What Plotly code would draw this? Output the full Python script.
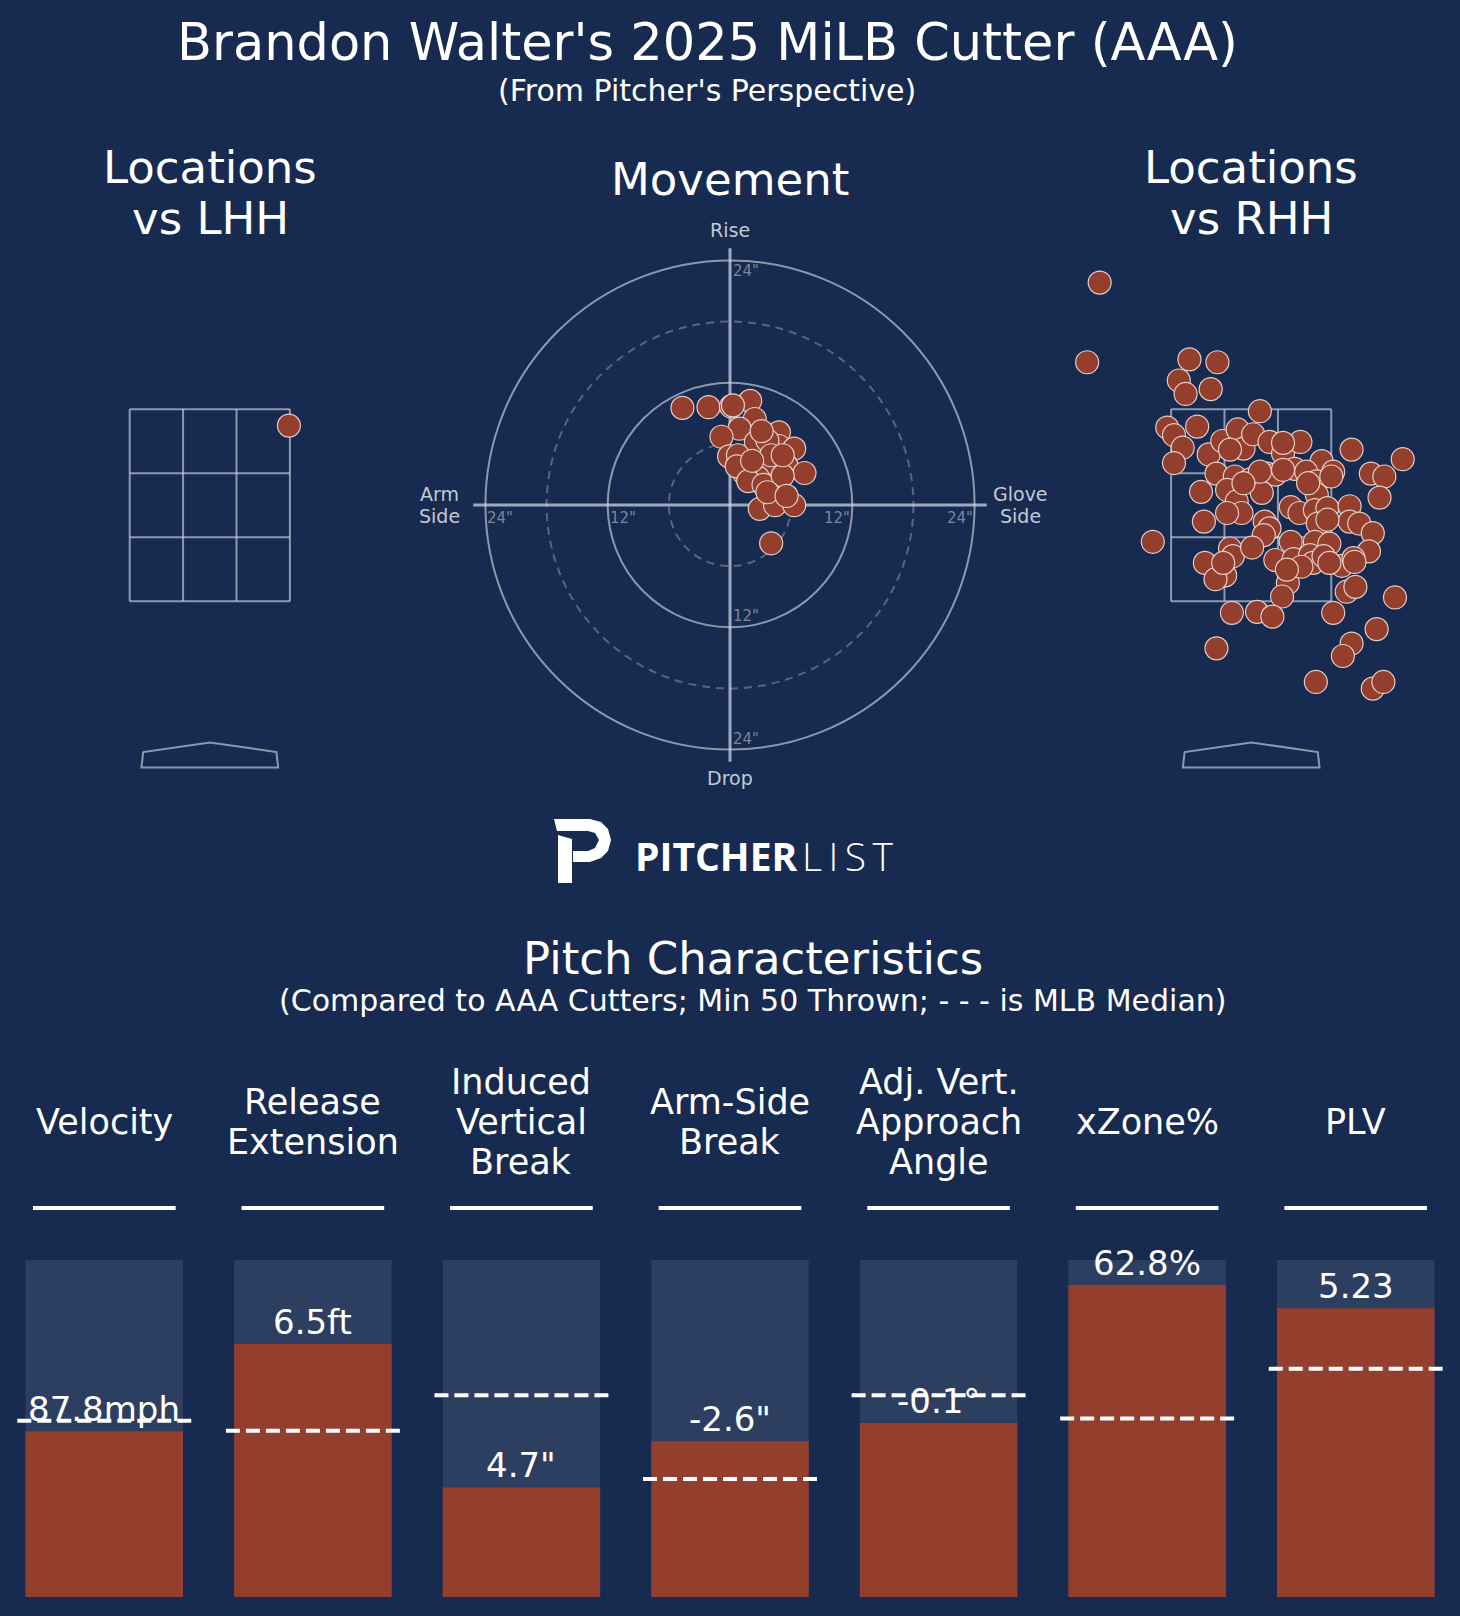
import plotly.graph_objects as go

# --- dati ---------------------------------------------------------------
TITLE = "Brandon Walter's 2025 MiLB Cutter (AAA)"
SUBTITLE = "(From Pitcher's Perspective)"

# posizioni vs LHH (ft, dal punto di vista del lanciatore)
lhh_x = [0.82]
lhh_z = [3.33]

# posizioni vs RHH (ft)
rhh_x = [-1.57, -1.70, -0.64, -0.35, -0.75, -0.68, -0.42, 0.09, -0.87, -0.80,
         -0.71, -0.80, -0.56, -0.44, -0.30, -0.14, -0.08, 0.02, 0.19, 0.33,
         0.51, 1.04, 1.57, 0.73, 0.85, 1.24, 1.38, 1.33, -0.36, -0.17,
         -0.01, 0.17, 0.25, 0.45, 0.57, 0.68, 0.83, -0.52, -0.25, -0.15,
         -0.10, -0.25, 0.11, 0.68, 0.41, 0.50, 0.66, 0.79, 1.02, 1.02,
         1.12, 1.26, 1.22, 0.69, 0.14, 0.19, 0.13, -0.49, -1.02, -0.22,
         -0.19, 0.01, 0.41, 0.66, 0.81, -0.48, -0.27, -0.37, 0.25, 0.44,
         0.61, 0.64, 0.94, 1.06, 1.07, 0.38, 0.32, 0.99, 1.08, 1.49,
         -0.20, 0.06, 0.22, 0.85, 1.30, 1.04, 0.95, -0.36, 0.67, 1.26,
         1.37, 0.79, 0.59, 0.33, 0.09, -0.22, -0.08, 0.75, 0.52, 0.37,
         0.81, -0.29, 0.33]
rhh_z = [4.82, 3.99, 4.02, 3.99, 3.80, 3.66, 3.71, 3.48, 3.31, 3.23,
         3.10, 2.94, 3.32, 3.03, 3.17, 3.29, 3.09, 3.24, 3.16, 3.04,
         3.16, 3.08, 2.98, 2.96, 2.85, 2.83, 2.80, 2.58, 2.83, 2.80,
         2.77, 2.83, 2.82, 2.88, 2.85, 2.75, 2.80, 2.64, 2.66, 2.54,
         2.42, 2.42, 2.63, 2.61, 2.48, 2.42, 2.45, 2.47, 2.49, 2.33,
         2.31, 2.21, 2.02, 2.31, 2.33, 2.26, 2.19, 2.33, 2.12, 2.05,
         1.97, 2.06, 2.12, 2.12, 2.10, 1.90, 1.77, 1.73, 1.93, 1.94,
         1.98, 1.90, 1.87, 1.95, 1.91, 1.69, 1.55, 1.60, 1.65, 1.54,
         1.38, 1.39, 1.34, 1.38, 1.21, 1.06, 0.93, 1.01, 0.66, 0.59,
         0.66, 2.35, 2.73, 2.87, 2.85, 3.08, 2.73, 1.97, 1.86, 1.83,
         1.90, 1.90, 3.15]

# movimento (pollici): orizzontale e verticale indotto
mov_h = [-4.67, -2.11, 0.10, 1.98, 0.29, 2.43, 0.93, -0.84, 4.80, 2.54,
         4.80, 6.30, -0.09, 0.78, 3.67, 5.55, 7.31, 2.73, 4.80, 2.92,
         4.42, 6.30, 4.04, 1.41, 3.67, 4.04, 0.66, 1.79, 3.29, 5.17,
         2.17, 3.10, 5.17, 3.67, 5.55]
mov_v = [9.53, 9.60, 9.67, 10.22, 9.78, 8.44, 7.49, 6.70, 7.13, 6.15,
         5.79, 5.53, 4.77, 4.88, 4.15, 3.86, 3.14, 2.70, 2.16, -0.38,
         -0.02, -0.02, -3.76, 3.07, 6.33, 4.88, 3.79, 2.34, 1.98, 2.88,
         4.34, 7.24, 4.88, 1.25, 0.89]

# caratteristiche del lancio (percentili)
metric_names = [["Velocity"], ["Release", "Extension"],
                ["Induced", "Vertical", "Break"], ["Arm-Side", "Break"],
                ["Adj. Vert.", "Approach", "Angle"], ["xZone%"], ["PLV"]]
value_labels = ["87.8mph", "6.5ft", "4.7\"", "-2.6\"", "-0.1°", "62.8%", "5.23"]
pct_values = [49.2, 75.1, 32.5, 46.2, 51.6, 92.6, 85.7]
median_pct = [52.3, 49.3, 59.9, 35.0, 59.9, 53.0, 67.7]

# --- stile ---------------------------------------------------------------
W, H = 1460, 1616
BG = "#172a4f"
BAR_BG = "#2d3f60"
RUST = "#943f2e"
LINE = "rgba(205,212,225,0.65)"
FONT = "DejaVu Sans"


def py(p):
    # pixel verticale -> coordinata paper
    return 1 - p / H


def pxx(p):
    return p / W


def hidden(**kw):
    d = dict(visible=False, showgrid=False, zeroline=False, fixedrange=True)
    d.update(kw)
    return d


dot_marker = dict(size=23, color=RUST, line=dict(color="rgba(240,222,215,0.9)", width=1.2))

fig = go.Figure()

# 1) barre
n = len(pct_values)
xs = list(range(n))
fig.add_trace(go.Bar(x=xs, y=[100] * n, width=0.755, marker=dict(color=BAR_BG, line_width=0),
                     xaxis="x", yaxis="y", hoverinfo="skip"))
fig.add_trace(go.Bar(x=xs, y=pct_values, width=0.755, marker=dict(color=RUST, line_width=0),
                     xaxis="x", yaxis="y"))

# 2) posizioni e movimento
fig.add_trace(go.Scatter(x=lhh_x, y=lhh_z, mode="markers", marker=dot_marker, xaxis="x2", yaxis="y2"))
fig.add_trace(go.Scatter(x=mov_h, y=mov_v, mode="markers", marker=dot_marker, xaxis="x3", yaxis="y3"))
fig.add_trace(go.Scatter(x=rhh_x, y=rhh_z, mode="markers", marker=dot_marker, xaxis="x4", yaxis="y4"))

shapes = []
annotations = []

# zona di strike + piatto per entrambi i pannelli
zone_x = [-0.83, -0.277, 0.277, 0.83]
zone_z = [1.5, 2.167, 2.833, 3.5]
plate = [(-0.708, -0.23), (-0.69, -0.07), (0.0, 0.03), (0.69, -0.07), (0.708, -0.23)]
for ax in ("2", "4"):
    for xv in zone_x:
        shapes.append(dict(type="line", xref="x" + ax, yref="y" + ax, x0=xv, x1=xv,
                           y0=zone_z[0], y1=zone_z[-1], line=dict(color=LINE, width=2), layer="below"))
    for zv in zone_z:
        shapes.append(dict(type="line", xref="x" + ax, yref="y" + ax, x0=zone_x[0], x1=zone_x[-1],
                           y0=zv, y1=zv, line=dict(color=LINE, width=2), layer="below"))
    path = "M " + " L ".join(f"{a},{b}" for a, b in plate) + " Z"
    shapes.append(dict(type="path", xref="x" + ax, yref="y" + ax, path=path,
                       line=dict(color=LINE, width=2), layer="below"))

# griglia polare del movimento
for r, dash, col in [(6, "8px,6px", "rgba(205,212,225,0.35)"), (12, "solid", LINE),
                     (18, "8px,6px", "rgba(205,212,225,0.35)"), (24, "solid", LINE)]:
    shapes.append(dict(type="circle", xref="x3", yref="y3", x0=-r, x1=r, y0=-r, y1=r,
                       line=dict(color=col, width=2, dash=dash), layer="below"))
shapes.append(dict(type="line", xref="x3", yref="y3", x0=-25.2, x1=25.2, y0=0, y1=0,
                   line=dict(color="rgba(205,212,225,0.75)", width=3), layer="below"))
shapes.append(dict(type="line", xref="x3", yref="y3", x0=0, x1=0, y0=-25.2, y1=25.2,
                   line=dict(color="rgba(205,212,225,0.75)", width=3), layer="below"))

# linee mediane e sottolineature
for i in xs:
    shapes.append(dict(type="line", xref="x", yref="y", x0=i - 0.417, x1=i + 0.417,
                       y0=median_pct[i], y1=median_pct[i],
                       line=dict(color="white", width=4, dash="14px,6px")))
    shapes.append(dict(type="line", xref="x", yref="paper", x0=i - 0.342, x1=i + 0.342,
                       y0=py(1208), y1=py(1208), line=dict(color="white", width=4)))

# logo P
def ppath(pts):
    return "M " + " L ".join(f"{pxx(a)},{py(b)}" for a, b in pts) + " Z"


bowl = [(554, 819), (590, 819), (601, 822), (608, 829), (611, 840), (608, 851), (601, 858),
        (590, 862), (573, 862), (573, 851), (588, 851), (595, 848), (599, 840), (595, 833),
        (588, 831), (557, 831)]
stem = [(558, 835), (572, 839), (572, 883), (558, 883)]
for pts in (bowl, stem):
    shapes.append(dict(type="path", xref="paper", yref="paper", path=ppath(pts),
                       fillcolor="white", line=dict(width=0)))


def text(t, x, y, size, color="white", xanchor="center", yanchor="middle", xref="paper", yref="paper",
         **kw):
    annotations.append(dict(text=t, x=x, y=y, xref=xref, yref=yref, showarrow=False,
                            xanchor=xanchor, yanchor=yanchor,
                            font=dict(family=kw.pop("family", FONT), size=size, color=color,
                                      weight=kw.pop("weight", "normal")), **kw))


# titoli
text(TITLE, pxx(707), py(42), 51)
text(SUBTITLE, pxx(707), py(91), 30)
text("Locations", pxx(210), py(167), 45)
text("vs LHH", pxx(210), py(219), 45)
text("Movement", pxx(730), py(180), 45)
text("Locations", pxx(1251), py(167), 45)
text("vs RHH", pxx(1251), py(219), 45)

# etichette movimento
GRAY = "#c3c9d4"
TICK = "rgba(190,198,212,0.6)"
text("Rise", 0, 27, 19, GRAY, xref="x3", yref="y3")
text("Drop", 0, -26.8, 19, GRAY, xref="x3", yref="y3")
text("Arm", -28.5, 0, 19, GRAY, xref="x3", yref="y3", yshift=11)
text("Side", -28.5, 0, 19, GRAY, xref="x3", yref="y3", yshift=-11)
text("Glove", 28.5, 0, 19, GRAY, xref="x3", yref="y3", yshift=11)
text("Side", 28.5, 0, 19, GRAY, xref="x3", yref="y3", yshift=-11)
for v in (-24, -12):
    text(f'{abs(v)}"', v, 0, 15, TICK, xanchor="left", yanchor="top", xref="x3", yref="y3", yshift=-2)
for v in (12, 24):
    text(f'{v}"', v, 0, 15, TICK, xanchor="right", yanchor="top", xref="x3", yref="y3", yshift=-2)
text('24"', 0, 24, 15, TICK, xanchor="left", yanchor="top", xref="x3", yref="y3", xshift=1)
for v in (-12, -24):
    text(f'{abs(v)}"', 0, v, 15, TICK, xanchor="left", yanchor="bottom", xref="x3", yref="y3", xshift=1)

# logo testo
text("PITCHER", pxx(633), py(855), 39, xanchor="left", family="Open Sans", weight=700)
text("L\u2009I\u2009S\u2009T", pxx(800), py(855), 39, xanchor="left", family="Open Sans", weight=300)

# sezione caratteristiche
text("Pitch Characteristics", pxx(753), py(958), 45)
text("(Compared to AAA Cutters; Min 50 Thrown; - - - is MLB Median)", pxx(753), py(1000), 30)
for i, lines in enumerate(metric_names):
    k = len(lines)
    for j, line in enumerate(lines):
        yc = 1122 + (j - (k - 1) / 2) * 40
        text(line, i, py(yc), 35, xref="x", yref="paper")
    text(value_labels[i], i, pct_values[i], 34, xref="x", yref="y", yshift=22)

fig.update_layout(
    width=W, height=H, margin=dict(l=0, r=0, t=0, b=0),
    paper_bgcolor=BG, plot_bgcolor=BG, showlegend=False, barmode="overlay",
    shapes=shapes, annotations=annotations,
    xaxis=hidden(domain=[0, 1], range=[-0.5, 6.5], anchor="y"),
    yaxis=hidden(domain=[py(1597), py(1260)], range=[0, 100], anchor="x"),
    xaxis2=hidden(domain=[pxx(16.8), pxx(402.8)], range=[-2, 2], anchor="y2"),
    yaxis2=hidden(domain=[py(793.3), py(246.1)], range=[-0.5, 5.2], anchor="x2"),
    xaxis3=hidden(domain=[pxx(424.3), pxx(1035.7)], range=[-30, 30], anchor="y3"),
    yaxis3=hidden(domain=[py(810.7), py(199.3)], range=[-30, 30], anchor="x3"),
    xaxis4=hidden(domain=[pxx(1058.2), pxx(1444.2)], range=[-2, 2], anchor="y4"),
    yaxis4=hidden(domain=[py(793.3), py(246.1)], range=[-0.5, 5.2], anchor="x4"),
)

# niente margine bianco della pagina, niente modebar
fig.write_html("out.html", config={"displayModeBar": False},
               post_script="document.body.style.margin='0';")
